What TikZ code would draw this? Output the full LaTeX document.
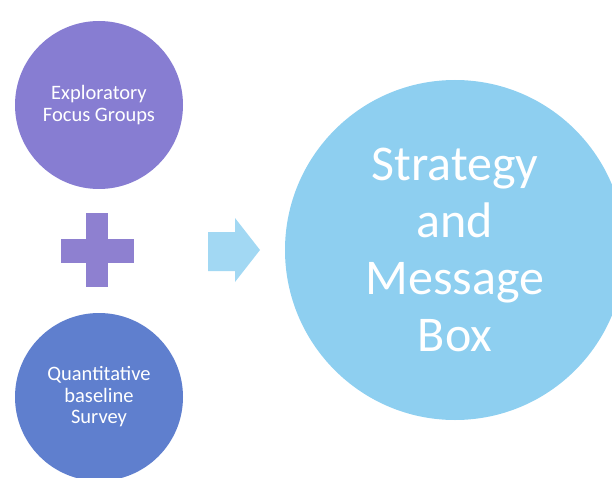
\documentclass[tikz,border=0pt]{standalone}
\usepackage{fontspec}
\setmainfont{Carlito}
\definecolor{focuspurple}{HTML}{877DD2}
\definecolor{surveyblue}{HTML}{5F7FCE}
\definecolor{boxblue}{HTML}{8ECFF0}
\definecolor{pluspurple}{HTML}{8E80D0}
\definecolor{arrowblue}{HTML}{A2D8F3}
\begin{document}
\begin{tikzpicture}[x=1pt, y=1pt,
		bubble/.style={circle, draw=none, text=white, align=center, inner sep=0pt},
		small/.style={bubble, minimum size=168pt, font=\fontsize{20.5}{21.5}\selectfont}]
		\useasboundingbox (0,0) rectangle (612,477);
		\node[small, fill=focuspurple] (focus) at (99,372) {Exploratory\\Focus Groups};
		\node[small, fill=surveyblue] (survey) at (99,80) {Quantitative\\baseline\\Survey};
		\node[bubble, minimum size=340pt, fill=boxblue, font=\fontsize{50}{57}\selectfont] (box) at (455,227) {Strategy\\and\\Message\\Box};
		% plus sign
		\fill [pluspurple] (86,190) rectangle (108,264);
		\fill [pluspurple] (61,214) rectangle (134,238);
		% arrow
		\fill [arrowblue] (208,206) -- (235,206) -- (235,195) -- (260,227) -- (235,259) -- (235,245) -- (208,245) -- cycle;
	\end{tikzpicture}
\end{document}
